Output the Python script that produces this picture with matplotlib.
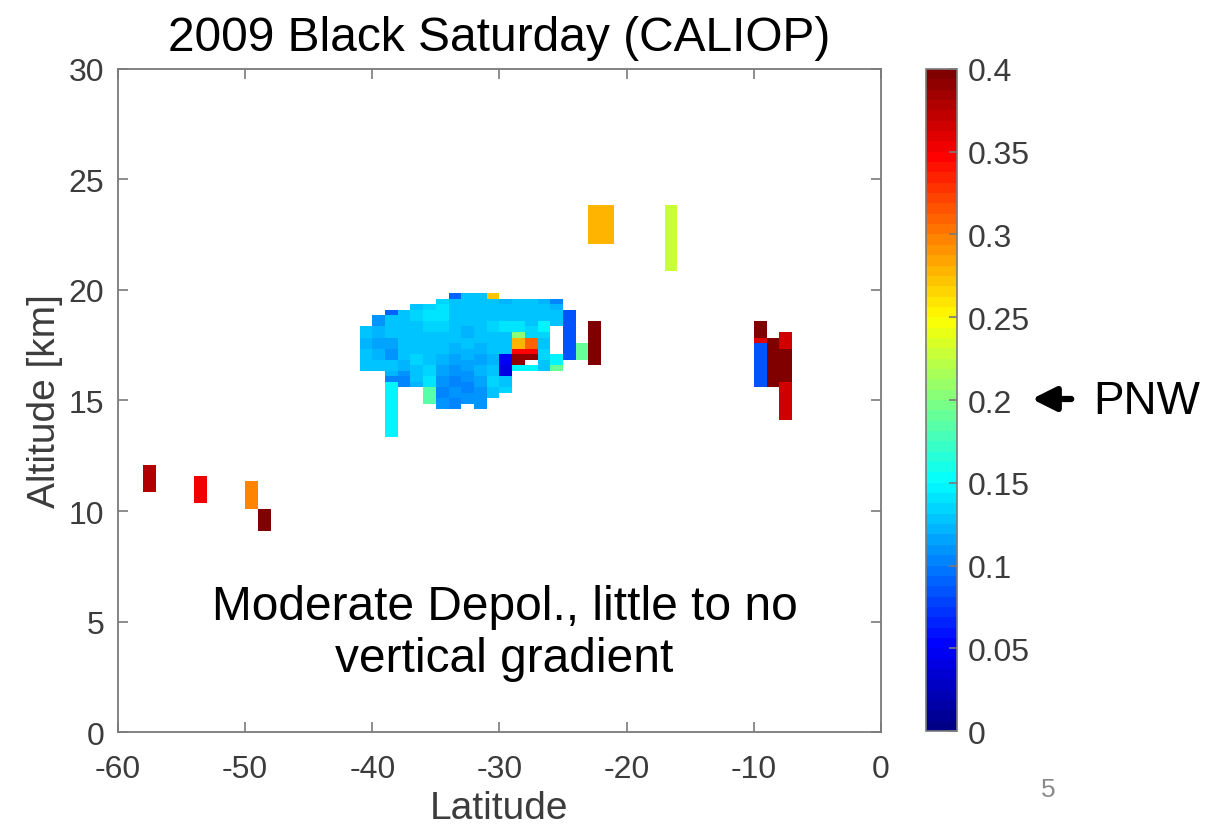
import numpy as np
import matplotlib
matplotlib.use("Agg")
import matplotlib.pyplot as plt
from matplotlib.colors import Normalize, LinearSegmentedColormap
from matplotlib.ticker import FuncFormatter

plt.rcParams['font.family'] = ['Liberation Sans', 'DejaVu Sans']
plt.rcParams['axes.unicode_minus'] = False

# CALIOP particulate depolarization ratio, gridded to 1 deg latitude x 0.25 km.
# Each profile: (latitude bin left edge, base altitude [km], values bottom -> top)
south_layers = [
    (-58, 10.85, [0.375, 0.375, 0.375, 0.375, 0.375]),
    (-54, 10.35, [0.355, 0.355, 0.355, 0.355, 0.355]),
    (-50, 10.10, [0.295, 0.295, 0.295, 0.295, 0.295]),
    (-49, 9.10, [0.40, 0.40, 0.40, 0.40]),
]

plume_main = [
    (-41, 16.35, [0.13, 0.13, 0.125, 0.125, 0.12, 0.12, 0.13, 0.13]),
    (-40, 16.35, [0.125, 0.125, 0.12, 0.12, 0.115, 0.115, 0.12, 0.12, 0.11, 0.11]),
    (-39, 13.35, [0.148, 0.148, 0.148, 0.148, 0.148, 0.148, 0.148, 0.148, 0.148, 0.148,
                  0.105, 0.12, 0.125, 0.125, 0.11, 0.11, 0.115, 0.115, 0.125, 0.125,
                  0.13, 0.13, 0.09]),
    (-38, 15.60, [0.105, 0.105, 0.11, 0.12, 0.12, 0.125, 0.125, 0.13, 0.13, 0.125,
                  0.125, 0.13, 0.13, 0.125]),
    (-37, 15.60, [0.12, 0.125, 0.13, 0.13, 0.135, 0.135, 0.13, 0.13, 0.125, 0.125,
                  0.13, 0.13, 0.135, 0.135, 0.13]),
    (-36, 14.85, [0.185, 0.185, 0.185, 0.14, 0.14, 0.135, 0.135, 0.13, 0.13, 0.125,
                  0.125, 0.13, 0.13, 0.135, 0.135, 0.14, 0.14, 0.135]),
    (-35, 14.60, [0.11, 0.11, 0.105, 0.105, 0.11, 0.11, 0.115, 0.115, 0.12, 0.12,
                  0.125, 0.125, 0.13, 0.13, 0.135, 0.135, 0.14, 0.14, 0.14, 0.135]),
    (-34, 14.60, [0.105, 0.105, 0.11, 0.11, 0.105, 0.105, 0.11, 0.11, 0.115, 0.115,
                  0.12, 0.12, 0.125, 0.125, 0.13, 0.13, 0.125, 0.125, 0.13, 0.13, 0.09]),
    (-33, 14.85, [0.11, 0.11, 0.105, 0.105, 0.11, 0.11, 0.115, 0.115, 0.12, 0.12,
                  0.125, 0.125, 0.12, 0.12, 0.125, 0.125, 0.13, 0.13, 0.13, 0.13]),
    (-32, 14.60, [0.11, 0.11, 0.11, 0.11, 0.115, 0.115, 0.12, 0.12, 0.115, 0.115,
                  0.12, 0.12, 0.125, 0.125, 0.13, 0.13, 0.125, 0.125, 0.13, 0.13, 0.125]),
    (-31, 15.10, [0.13, 0.13, 0.135, 0.135, 0.125, 0.125, 0.12, 0.12, 0.125, 0.125,
                  0.13, 0.13, 0.135, 0.135, 0.13, 0.13, 0.125, 0.125, 0.27]),
    (-30, 15.35, [0.135, 0.13, 0.13, 0.04, 0.04, 0.045, 0.045, 0.125, 0.125, 0.13,
                  0.13, 0.14, 0.14, 0.13, 0.13, 0.125, 0.12]),
    (-29, 16.35, [0.15, 0.39, 0.39, 0.35, 0.28, 0.28, 0.2, 0.14, 0.14, 0.13,
                  0.13, 0.125, 0.125]),
    (-28, 16.35, [0.15, np.nan, 0.39, 0.345, 0.31, 0.31, 0.135, 0.135, 0.13, 0.13,
                  0.125, 0.125, 0.125]),
    (-27, 16.35, [0.13, 0.13, 0.135, 0.135, 0.13, 0.13, 0.135, 0.145, 0.145, 0.13,
                  0.125, 0.125, 0.12]),
    (-26, 16.35, [0.19, 0.15, 0.15, np.nan, np.nan, np.nan, np.nan, np.nan, 0.13, 0.13,
                  0.125, 0.12, 0.105]),
    (-25, 16.85, [0.085, 0.085, 0.085, 0.085, 0.085, 0.085, 0.085, 0.085, 0.085]),
    (-24, 16.85, [0.19, 0.19, 0.19]),
    (-23, 16.60, [0.40, 0.40, 0.40, 0.40, 0.40, 0.40, 0.40, 0.40]),
]

upper_layers = [
    (-23, 22.10, [0.28, 0.28, 0.28, 0.28, 0.28, 0.28, 0.28]),
    (-22, 22.10, [0.28, 0.28, 0.28, 0.28, 0.28, 0.28, 0.28]),
    (-17, 20.85, [0.23, 0.23, 0.23, 0.23, 0.23, 0.23, 0.23, 0.23, 0.23, 0.23, 0.23, 0.23]),
]

tropical = [
    (-10, 15.60, [0.085, 0.085, 0.085, 0.085, 0.085, 0.085, 0.085, 0.085,
                  0.36, 0.40, 0.40, 0.40]),
    (-9, 15.60, [0.40, 0.40, 0.40, 0.40, 0.40, 0.40, 0.40, 0.40, 0.40]),
    (-8, 14.10, [0.365, 0.365, 0.365, 0.365, 0.365, 0.365, 0.365,
                 0.40, 0.40, 0.40, 0.40, 0.40, 0.40,
                 0.365, 0.365, 0.365]),
]

lat_edges = np.arange(-60, 1, 1.0)
alt_edges = 0.1 + 0.25 * np.arange(0, 121)

grid = np.full((len(alt_edges) - 1, len(lat_edges) - 1), np.nan)
for group in (south_layers, plume_main, upper_layers, tropical):
    for lat0, base, vals in group:
        col = int(round(lat0 - lat_edges[0]))
        row0 = int(round((base - alt_edges[0]) / 0.25))
        for k, v in enumerate(vals):
            grid[row0 + k, col] = v

# MATLAB-style jet, 64 levels
jet_segments = {
    'red':   [(0.0, 0.0, 0.0), (0.375, 0.0, 0.0), (0.625, 1.0, 1.0),
              (0.875, 1.0, 1.0), (1.0, 0.5, 0.5)],
    'green': [(0.0, 0.0, 0.0), (0.125, 0.0, 0.0), (0.375, 1.0, 1.0),
              (0.625, 1.0, 1.0), (0.875, 0.0, 0.0), (1.0, 0.0, 0.0)],
    'blue':  [(0.0, 0.53, 0.53), (0.125, 1.0, 1.0), (0.375, 1.0, 1.0),
              (0.625, 0.0, 0.0), (1.0, 0.0, 0.0)],
}
cmap = LinearSegmentedColormap('jet64', jet_segments, N=64)
norm = Normalize(vmin=0.0, vmax=0.4)

fig = plt.figure(figsize=(12.21, 8.28), dpi=100)
ax = fig.add_axes([0.0966, 0.1147, 0.6249, 0.8008])
cax = fig.add_axes([0.7584, 0.1159, 0.0254, 0.7996])

mesh = ax.pcolormesh(lat_edges, alt_edges, np.ma.masked_invalid(grid),
                     cmap=cmap, norm=norm, shading='flat')

axis_gray = '#7a7a7a'
label_gray = '#3c3c3c'

ax.set_xlim(-60, 0)
ax.set_ylim(0, 30)
ax.set_xticks(np.arange(-60, 1, 10))
ax.set_yticks(np.arange(0, 31, 5))
ax.tick_params(direction='in', length=7, width=1.2, colors=axis_gray,
               labelcolor=label_gray, labelsize=23, top=True, right=True)
ax.tick_params(axis='x', pad=16)
ax.tick_params(axis='y', pad=10)
for s in ax.spines.values():
    s.set_color(axis_gray)
    s.set_linewidth(1.3)
ax.set_xlabel('Latitude', fontsize=28, color=label_gray, labelpad=4)
ax.set_ylabel('Altitude [km]', fontsize=28, color=label_gray, labelpad=4)
ax.set_title('2009 Black Saturday (CALIOP)', fontsize=34.5, color='black', pad=14)

ax.text(-29.6, 4.5, 'Moderate Depol., little to no\nvertical gradient',
        ha='center', va='center', multialignment='center',
        fontsize=34.5, color='black', linespacing=1.2)

cb = fig.colorbar(mesh, cax=cax, ticks=np.arange(0, 0.401, 0.05))
cb.ax.yaxis.set_major_formatter(FuncFormatter(lambda v, p: f'{v:g}'))
cb.ax.tick_params(direction='in', length=6, width=1.2, colors=axis_gray,
                  labelcolor=label_gray, labelsize=23, pad=8)
cb.outline.set_edgecolor(axis_gray)
cb.outline.set_linewidth(1.2)

# arrow and label beside the colorbar
fig.patches.append(matplotlib.patches.FancyArrowPatch(
    (1074 / 1221, 1 - 400 / 828), (1029 / 1221, 1 - 400 / 828),
    transform=fig.transFigure, arrowstyle='-|>', mutation_scale=36,
    linewidth=4.5, color='black'))
fig.text(1093 / 1221, 1 - 402 / 828, 'PNW', fontsize=33, color='black',
         ha='left', va='center')

fig.text(1048 / 1221, 1 - 790 / 828, '5', fontsize=19, color='#8a8a8a',
         ha='center', va='center')

fig.savefig('out.png', dpi=100, facecolor='white')
